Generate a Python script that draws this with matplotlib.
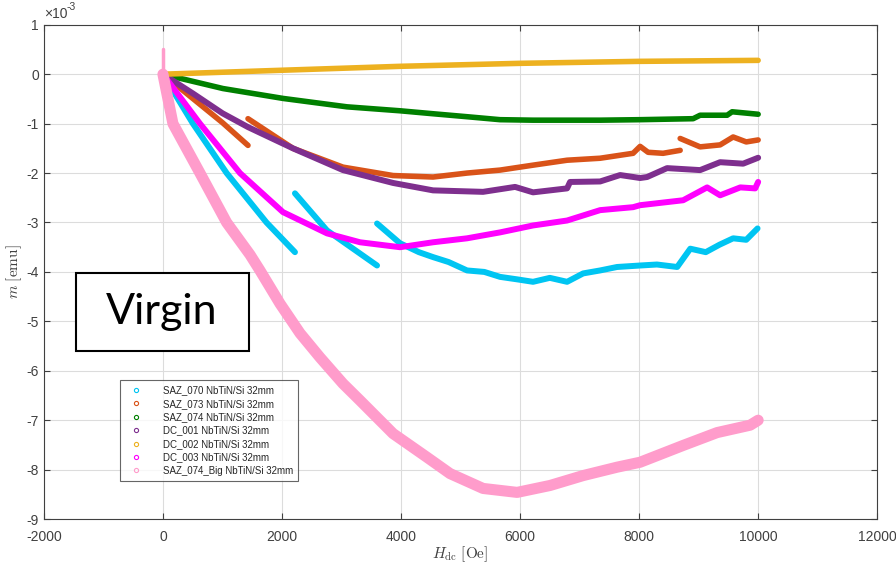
import numpy as np
import matplotlib
matplotlib.use("Agg")
import matplotlib.pyplot as plt
from matplotlib.lines import Line2D
from matplotlib.patches import Rectangle

nan = np.nan

# Campo aplicado (Oe) y momento (x1e-3 emu); NaN separa tramos de medida
saz070_h = [0, 504, 1070, 1740, 2218, nan, 2218, 2756, 3597, nan,
            3597, 3983, 4300, 4538, 4800, 5109, 5400, 5664, 5950, 6218, 6500, 6790,
            7060, 7345, 7630, 8017, 8300, 8640, 8860, 9120, 9350, 9580, 9800, 9990]
saz070_m = [0, -1.0, -2.0, -3.0, -3.6, nan, -2.41, -3.16, -3.87, nan,
            -3.02, -3.42, -3.60, -3.70, -3.80, -3.97, -4.00, -4.10, -4.15, -4.20, -4.12, -4.20,
            -4.03, -3.97, -3.90, -3.87, -3.85, -3.90, -3.53, -3.60, -3.45, -3.32, -3.35, -3.12]

saz073_h = [0, 500, 1000, 1429, nan, 1429, 2185, 3025, 3866, 4538, 5109, 5664,
            6218, 6790, 7345, 7899, 8017, 8151, 8403, 8690, nan,
            8690, 9025, 9361, 9580, 9800, 10000]
saz073_m = [0, -0.49, -0.98, -1.44, nan, -0.90, -1.50, -1.88, -2.05, -2.08, -2.00, -1.94,
            -1.84, -1.74, -1.70, -1.60, -1.46, -1.58, -1.60, -1.54, nan,
            -1.30, -1.47, -1.43, -1.27, -1.37, -1.33]

saz074_h = [0, 1008, 2017, 3092, 3983, 4538, 5109, 5664, 6218, 7345, 8017,
            8908, 9025, 9479, 9563, 10000]
saz074_m = [0, -0.29, -0.49, -0.66, -0.74, -0.80, -0.86, -0.92, -0.93, -0.93, -0.92,
            -0.90, -0.83, -0.83, -0.76, -0.81]

dc001_h = [0, 504, 1000, 1429, 2185, 3025, 3866, 4538, 5378, 5916, 6218, 6790,
           6840, 7345, 7681, 8017, 8134, 8470, 9025, 9361, 9748, 10000]
dc001_m = [0, -0.39, -0.79, -1.07, -1.50, -1.94, -2.20, -2.35, -2.38, -2.28, -2.39, -2.31,
           -2.18, -2.17, -2.04, -2.10, -2.08, -1.90, -1.94, -1.78, -1.81, -1.69]

dc002_h = [0, 2000, 4000, 6000, 8000, 10000]
dc002_m = [0, 0.08, 0.16, 0.22, 0.26, 0.28]

dc003_h = [0, 622, 1294, 2017, 2756, 3311, 3983, 4538, 5109, 5664, 6218, 6790,
           7345, 7899, 8017, 8740, 9143, 9361, 9700, 9950, 10000]
dc003_m = [0, -1.0, -2.0, -2.79, -3.22, -3.40, -3.50, -3.40, -3.32, -3.20, -3.06, -2.96,
           -2.75, -2.69, -2.65, -2.55, -2.29, -2.45, -2.29, -2.31, -2.18]

big_h = [0, 0, 0, 168, 622, 1070, 1462, 1630, 1966, 2303, 2639, 3025, 3311, 3866,
         4437, 4824, 5378, 5950, 6504, 7059, 7630, 8017, 8740, 9311, 9866, 10000]
big_m = [0.5, 0.2, 0, -1.0, -2.0, -3.0, -3.65, -3.97, -4.64, -5.24, -5.73, -6.26, -6.6, -7.27,
         -7.75, -8.08, -8.38, -8.46, -8.32, -8.12, -7.95, -7.85, -7.51, -7.25, -7.10, -7.00]

x_ticks = [-2000, 0, 2000, 4000, 6000, 8000, 10000, 12000]
y_ticks = [-9, -8, -7, -6, -5, -4, -3, -2, -1, 0, 1]

series = [
    ("SAZ_070 NbTiN/Si 32mm", saz070_h, saz070_m, "#00C5F2", 4.3),
    ("SAZ_073 NbTiN/Si 32mm", saz073_h, saz073_m, "#D95319", 4.0),
    ("SAZ_074 NbTiN/Si 32mm", saz074_h, saz074_m, "#008000", 4.0),
    ("DC_001 NbTiN/Si 32mm", dc001_h, dc001_m, "#7E2F8E", 4.3),
    ("DC_002 NbTiN/Si 32mm", dc002_h, dc002_m, "#EDB120", 4.0),
    ("DC_003 NbTiN/Si 32mm", dc003_h, dc003_m, "#FF00FF", 4.3),
    ("SAZ_074_Big NbTiN/Si 32mm", big_h, big_m, "#FF9CCB", 8.0),
]

plt.rcParams['mathtext.fontset'] = 'cm'
plt.rcParams['axes.unicode_minus'] = False
plt.rcParams['font.family'] = ['Liberation Sans', 'DejaVu Sans']
fig = plt.figure(figsize=(8.96, 5.63), dpi=100)
ax = fig.add_axes([0.049, 0.078, 0.930, 0.878])

# el eje y va en unidades de 1e-3 emu
handles = []
for label, h, m, color, lw in series:
    h = np.array(h)
    m = np.array(m)
    if label.startswith("SAZ_074_Big"):
        # pico inicial en H = 0 dibujado fino
        ax.plot(h[:3], m[:3], color=color, lw=2.5, solid_capstyle='round')
        h, m = h[2:], m[2:]
    ax.plot(h, m, color=color, lw=lw, solid_capstyle='round', solid_joinstyle='round')
    handles.append(Line2D([], [], ls='none', marker='o', ms=3, mfc='none',
                          mec=color, mew=0.8, label=label))

ax.set_xlim(-2000, 12000)
ax.set_ylim(-9, 1)
ax.set_xticks(x_ticks)
ax.set_yticks(y_ticks)
ax.set_xticklabels([str(v) for v in x_ticks])
ax.set_yticklabels([str(v) for v in y_ticks])
# factor de escala del eje y, en la misma fuente que los ticks
ax.text(0.0, 1.008, "\u00d710", transform=ax.transAxes, fontsize=10,
        color='#404040', ha='left', va='bottom')
ax.text(0.027, 1.025, "-3", transform=ax.transAxes, fontsize=7.5,
        color='#404040', ha='left', va='bottom')

ax.grid(True, color='#dcdcdc', lw=0.8)
ax.set_axisbelow(True)
ax.tick_params(direction='in', top=True, right=True, labelsize=10,
               colors='#404040', length=4)
ax.tick_params(axis='x', pad=8)
for s in ax.spines.values():
    s.set_color('#404040')
    s.set_linewidth(0.8)

ax.set_xlabel(r'$H_{\rm dc}\ [\mathrm{Oe}]$', fontsize=11, color='#404040', labelpad=0)
ax.set_ylabel(r'$m\ [\mathrm{emu}]$', fontsize=11, color='#404040', labelpad=2)

leg = ax.legend(handles=handles, loc='lower left', bbox_to_anchor=(0.086, 0.068),
                fontsize=7, frameon=True, fancybox=False, edgecolor='#404040',
                handletextpad=1.6, borderpad=0.5, labelspacing=0.35, handlelength=2.3)
leg.get_frame().set_linewidth(0.8)
for t in leg.get_texts():
    t.set_color('#262626')

# Recuadro de la etiqueta "Virgin"
fig.patches.append(Rectangle((0.0848, 0.3766), 0.193, 0.1385, transform=fig.transFigure,
                             facecolor='white', edgecolor='black', lw=1.5, zorder=5))
fig.text(0.181, 0.446, "Virgin", fontsize=31, family=['Lato', 'DejaVu Sans'],
         ha='center', va='center', color='black', zorder=6)

plt.savefig("out.png", dpi=100)
